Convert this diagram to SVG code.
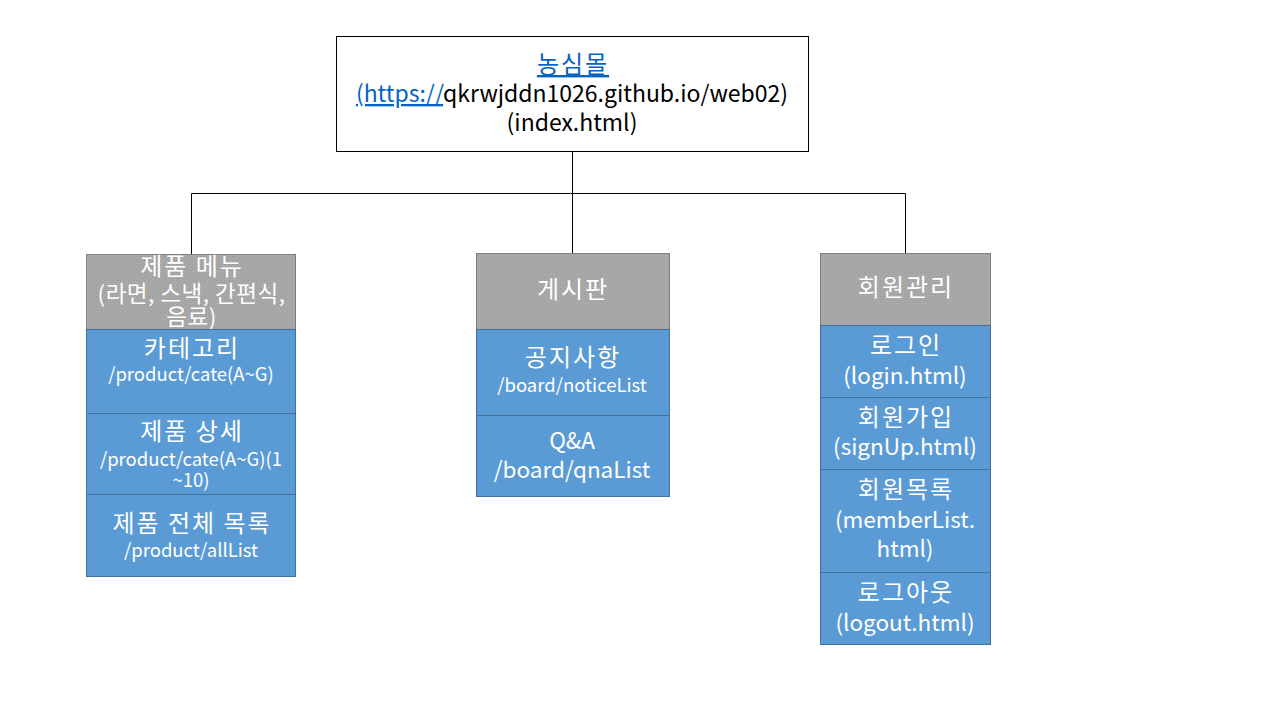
<svg xmlns="http://www.w3.org/2000/svg" width="1280" height="720" viewBox="0 0 1280 720">
<style>
text{font-family:"Malgun Gothic","Noto Sans CJK KR","Noto Sans",sans-serif;text-anchor:middle}
.h{font-size:24px;letter-spacing:2px;fill:#fff}
.m{font-size:22.5px;letter-spacing:0.5px;fill:#fff}
.t{font-size:22.5px;fill:#fff}
.s{font-size:18.5px;fill:#fff}
.k{font-size:23px;fill:#000}
.kh{font-size:24px;letter-spacing:2px}
.lnk{fill:#0563C1;text-decoration:underline}
.hd{fill:url(#stip);stroke:#7F7F7F;stroke-width:1}
.it{fill:#5B9BD5;stroke:#41719C;stroke-width:1}
.con{fill:none;stroke:#000;stroke-width:1}
</style>
<defs>
<pattern id="stip" width="4" height="4" patternUnits="userSpaceOnUse">
<rect width="4" height="4" fill="#A7A7A7"/>
<rect x="0" y="0" width="1" height="1" fill="#9B9B9B"/>
<rect x="2" y="2" width="1" height="1" fill="#9B9B9B"/>
<rect x="1" y="3" width="1" height="1" fill="#B0B0B0"/>
<rect x="3" y="1" width="1" height="1" fill="#B0B0B0"/>
</pattern>
</defs>
<rect width="1280" height="720" fill="#fff"/>
<g id="connectors">
<path class="con" d="M572.5 151V193.5M191.5 193.5H905.5M191.5 193.5V254M572.5 193.5V253M905.5 193.5V253"/>
</g>
<g id="root">
<rect x="336.5" y="36.5" width="472" height="115" fill="#fff" stroke="#000"/>
<text class="k kh lnk" x="573" y="73">농심몰</text>
<text class="k" x="572" y="102"><tspan class="lnk">(https://</tspan>qkrwjddn1026.github.io/web02)</text>
<text class="k" x="572" y="131">(index.html)</text>
</g>
<g id="product-menu">
<rect class="hd" x="86.5" y="254.5" width="209" height="75"/>
<text class="h" x="192" y="275">제품 메뉴</text>
<text class="m" x="191.5" y="302">(라면, 스낵, 간편식,</text>
<text class="m" x="191.5" y="325">음료)</text>
</g>
<g id="category">
<rect class="it" x="86.5" y="329.5" width="209" height="84"/>
<text class="h" x="192" y="357">카테고리</text>
<text class="s" x="191" y="381">/product/cate(A~G)</text>
</g>
<g id="product-detail">
<rect class="it" x="86.5" y="413.5" width="209" height="81"/>
<text class="h" x="192" y="440">제품 상세</text>
<text class="s" x="191" y="466">/product/cate(A~G)(1</text>
<text class="s" x="191" y="487">~10)</text>
</g>
<g id="product-all">
<rect class="it" x="86.5" y="494.5" width="209" height="82"/>
<text class="h" x="192" y="532">제품 전체 목록</text>
<text class="s" x="191" y="557">/product/allList</text>
</g>
<g id="board">
<rect class="hd" x="476.5" y="253.5" width="193" height="76"/>
<text class="h" x="573" y="298">게시판</text>
</g>
<g id="notice">
<rect class="it" x="476.5" y="329.5" width="193" height="86"/>
<text class="h" x="573" y="366">공지사항</text>
<text class="s" x="572" y="392">/board/noticeList</text>
</g>
<g id="qna">
<rect class="it" x="476.5" y="415.5" width="193" height="81"/>
<text class="t" x="572" y="449">Q&amp;A</text>
<text class="t" x="572" y="478">/board/qnaList</text>
</g>
<g id="member">
<rect class="hd" x="820.5" y="253.5" width="170" height="72"/>
<text class="h" x="906" y="296">회원관리</text>
</g>
<g id="login">
<rect class="it" x="820.5" y="325.5" width="170" height="72"/>
<text class="h" x="906" y="354">로그인</text>
<text class="t" x="905" y="384">(login.html)</text>
</g>
<g id="signup">
<rect class="it" x="820.5" y="397.5" width="170" height="72"/>
<text class="h" x="906" y="426">회원가입</text>
<text class="t" x="905" y="455">(signUp.html)</text>
</g>
<g id="memberlist">
<rect class="it" x="820.5" y="469.5" width="170" height="103"/>
<text class="h" x="906" y="498">회원목록</text>
<text class="t" x="905" y="528">(memberList.</text>
<text class="t" x="905" y="557">html)</text>
</g>
<g id="logout">
<rect class="it" x="820.5" y="572.5" width="170" height="72"/>
<text class="h" x="906" y="601">로그아웃</text>
<text class="t" x="905" y="631">(logout.html)</text>
</g>
</svg>
